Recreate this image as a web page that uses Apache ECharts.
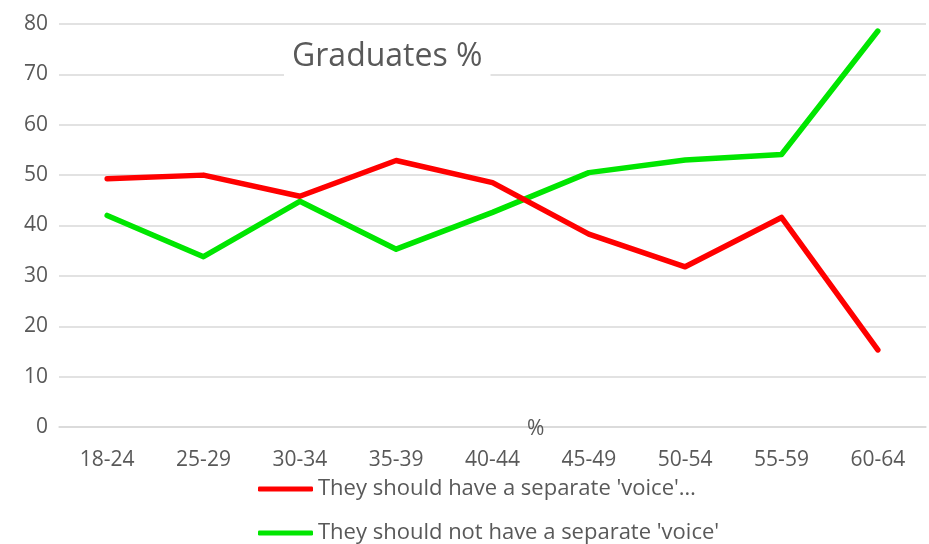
<!DOCTYPE html>
<html>
<head>
<meta charset="utf-8">
<script src="https://cdn.jsdelivr.net/npm/echarts@6/dist/echarts.min.js"></script>
<style>
  html, body { margin: 0; padding: 0; background: #fff; }
  #chart { width: 929px; height: 544px; }
</style>
</head>
<body>
<div id="chart"></div>
<script>
// Age bands on the category axis
const ageBands = ['18-24', '25-29', '30-34', '35-39', '40-44', '45-49', '50-54', '55-59', '60-64'];

// Share of graduates (%) per age band
const separateVoice = [49.3, 50.0, 45.8, 52.9, 48.5, 38.3, 31.8, 41.6, 15.3];
const noSeparateVoice = [42.0, 33.8, 44.8, 35.3, 42.6, 50.5, 53.0, 54.1, 78.6];

const seriesNames = ["They should have a separate 'voice'\u2026", "They should not have a separate 'voice'"];
const yTicks = [0, 80, 10];

const FONT = '"Open Sans", "Liberation Sans", sans-serif';
const TEXT = '#595959';

// One legend block per series, stacked under the axis
function legendRow(name, top) {
  return {
    orient: 'vertical',
    left: 258,
    top: top,
    itemWidth: 55,
    itemHeight: 5,
    itemGap: 0,
    padding: 0,
    textStyle: { color: TEXT, fontSize: 22, fontFamily: FONT, padding: [0, 0, 0, 0] },
    data: [{ name: name, icon: 'roundRect' }]
  };
}

const chart = echarts.init(document.getElementById('chart'));
chart.setOption({
  animation: false,
  textStyle: { fontFamily: FONT },
  title: [
    {
      text: 'Graduates %',
      left: 284,
      top: 39,
      backgroundColor: '#fff',
      padding: [2, 8, 6, 8],
      textStyle: { color: TEXT, fontSize: 32, fontWeight: 'normal', fontFamily: FONT }
    },
    {
      text: '%',
      left: 527,
      top: 419,
      padding: 0,
      textStyle: { color: TEXT, fontSize: 21, fontWeight: 'normal', fontFamily: FONT }
    }
  ],
  grid: { left: 59, right: 3, top: 24, bottom: 117, containLabel: false },
  legend: [legendRow(seriesNames[0], 478), legendRow(seriesNames[1], 522)],
  xAxis: {
    type: 'category',
    data: ageBands,
    boundaryGap: true,
    axisLine: { show: true, lineStyle: { color: '#d9d9d9', width: 1.5 } },
    axisTick: { show: false },
    axisLabel: { color: TEXT, fontSize: 21, margin: 23 }
  },
  yAxis: {
    type: 'value',
    min: yTicks[0],
    max: yTicks[1],
    interval: yTicks[2],
    axisLine: { show: false },
    axisTick: { show: false },
    axisLabel: { color: TEXT, fontSize: 21, margin: 11 },
    splitLine: { lineStyle: { color: '#d9d9d9', width: 1.5 } }
  },
  series: [
    {
      name: seriesNames[0],
      type: 'line',
      data: separateVoice,
      symbol: 'none',
      z: 3,
      itemStyle: { color: '#ff0000' },
      lineStyle: { color: '#ff0000', width: 5.5, cap: 'round', join: 'round' }
    },
    {
      name: seriesNames[1],
      type: 'line',
      data: noSeparateVoice,
      symbol: 'none',
      z: 2,
      itemStyle: { color: '#00e600' },
      lineStyle: { color: '#00e600', width: 5.5, cap: 'round', join: 'round' }
    }
  ]
});
</script>
</body>
</html>
